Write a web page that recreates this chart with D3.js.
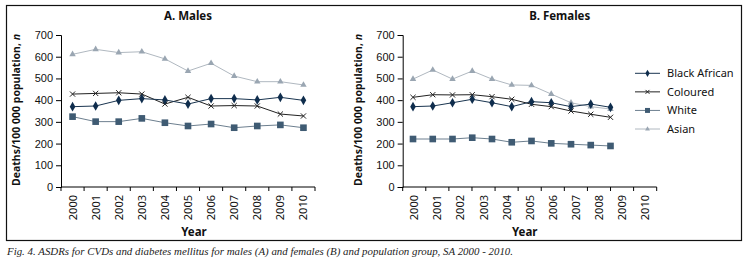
<!DOCTYPE html>
<html><head><meta charset="utf-8">
<script src="https://cdn.jsdelivr.net/npm/d3@7"></script>
<style>
body{margin:0;background:#fff;}
svg{display:block;font-family:"Noto Sans",sans-serif;}
</style></head>
<body><svg id="c" width="746" height="267"></svg>
<script>
const years = ["2000","2001","2002","2003","2004","2005","2006","2007","2008","2009","2010"];
const groups = ["Black African","Coloured","White","Asian"];
const yTicks = [0,100,200,300,400,500,600,700];

const malesBlack    = [370,373,399,407,401,382,407,407,401,413,399];
const malesColoured = [428,431,434,428,382,413,373,375,373,336,327];
const malesWhite    = [324,301,301,316,296,281,290,273,281,286,273];
const malesAsian    = [611,634,619,623,590,534,570,511,485,485,470];

const femalesBlack    = [370,373,388,404,388,370,393,388,370,382,367];
const femalesColoured = [413,425,424,425,416,404,381,370,350,335,321];
const femalesWhite    = [221,221,221,227,221,206,212,201,197,193,189];
const femalesAsian    = [497,539,497,534,497,470,468,428,388,370,359];

const styles = {
  "Black African": {line:"#1a3550", fill:"#0f2d4d", marker:"diamond", size:27},
  "Coloured":      {line:"#222", fill:"#222", marker:"x", size:22},
  "White":         {line:"#6d7f8f", fill:"#3f5b73", marker:"square", size:44},
  "Asian":         {line:"#b0b8c0", fill:"#9aa6b2", marker:"triangle", size:18}
};

const svg = d3.select("#c");
// frame
svg.append("rect").attr("x",6.5).attr("y",5.5).attr("width",735).attr("height",235)
  .attr("fill","none").attr("stroke","#111").attr("stroke-width",1.2);

const y = d3.scaleLinear().domain([0,700]).range([187,35]);

function markerPath(kind,size,scale){
  const k = scale||1;
  if(kind==="x"){ const r=2.6*k; return `M${-r},${-r}L${r},${r}M${-r},${r}L${r},${-r}`; }
  const t = {diamond:d3.symbolDiamond, square:d3.symbolSquare, triangle:d3.symbolTriangle}[kind];
  return d3.symbol().type(t).size(size*k*k)();
}

function panel(opts){
  const g = svg.append("g");
  const xBand = d3.scaleBand().domain(years).range([opts.x0,opts.x1]);
  const xPt = opts.pointScale || (d => xBand(d)+xBand.bandwidth()/2);
  // y axis
  const ya = g.append("g").attr("transform",`translate(${opts.x0},0)`)
    .call(d3.axisLeft(y).tickValues(yTicks).tickSize(5).tickPadding(3));
  ya.select(".domain").attr("stroke","#000");
  ya.selectAll("text").attr("font-size",11).attr("fill","#111");
  // x axis with ticks at band boundaries
  const xa = g.append("g").attr("transform",`translate(0,187)`);
  xa.append("line").attr("x1",opts.x0).attr("x2",opts.x1).attr("stroke","#000");
  const bounds = years.map(d=>xBand(d)).concat([opts.x1]);
  xa.selectAll("line.t").data(bounds).join("line").attr("class","t")
    .attr("x1",d=>d).attr("x2",d=>d).attr("y1",0).attr("y2",4).attr("stroke","#000");
  xa.selectAll("text").data(years).join("text")
    .attr("transform",d=>`translate(${xBand(d)+xBand.bandwidth()/2+4},${8}) rotate(-90)`)
    .attr("text-anchor","end").attr("font-size",11).attr("fill","#111").text(d=>d);
  // labels
  g.append("text").attr("x",(opts.x0+opts.x1)/2+opts.titleDx).attr("y",20).attr("text-anchor","middle")
    .attr("font-weight","bold").attr("font-size",11.5).attr("fill","#111").text(opts.title);
  g.append("text").attr("x",(opts.x0+opts.x1)/2+opts.yearDx).attr("y",236).attr("text-anchor","middle")
    .attr("font-weight","bold").attr("font-size",11.5).attr("fill","#111").text("Year");
  const yl = g.append("text").attr("transform",`translate(${opts.x0-41},110) rotate(-90)`)
    .attr("text-anchor","middle").attr("font-weight","bold").attr("font-size",10.5).attr("fill","#111");
  yl.append("tspan").text("Deaths/100 000 population, ");
  yl.append("tspan").attr("font-style","italic").text("n");
  // series
  const order = ["Asian","White","Coloured","Black African"];
  order.forEach(name=>{
    const vals = opts.data[name];
    const st = styles[name];
    const pts = vals.map((v,i)=>[xPt(years[i],i), y(v)]);
    g.append("path").attr("d",d3.line()(pts)).attr("fill","none")
      .attr("stroke",st.line).attr("stroke-width",1);
    g.selectAll(null).data(pts).join("path")
      .attr("transform",p=>`translate(${p[0]},${p[1]})`)
      .attr("d",markerPath(st.marker,st.size))
      .attr("fill",st.marker==="x"?"none":st.fill)
      .attr("stroke",st.marker==="x"?st.fill:"none").attr("stroke-width",1);
  });
}

panel({x0:61, x1:315, title:"A. Males", titleDx:0, yearDx:6,
  data:{"Black African":malesBlack,"Coloured":malesColoured,"White":malesWhite,"Asian":malesAsian}});

// females panel: points are compressed relative to the year axis in the original
const fIdx = d3.scaleLinear().domain([0, years.length-1]).range([413, 610.5]);
panel({x0:402.7, x1:656.7, title:"B. Females", titleDx:30, yearDx:-5,
  pointScale:(d,i)=>fIdx(i),
  data:{"Black African":femalesBlack,"Coloured":femalesColoured,"White":femalesWhite,"Asian":femalesAsian}});

// legend
const lg = svg.append("g");
const ly = d3.scalePoint().domain(groups).range([73.3,129]);
groups.forEach(name=>{
  const st = styles[name];
  const yy = ly(name);
  lg.append("line").attr("x1",635).attr("x2",660).attr("y1",yy).attr("y2",yy).attr("stroke",st.line);
  lg.append("path").attr("transform",`translate(647.5,${yy})`).attr("d",markerPath(st.marker,st.size,0.75))
    .attr("fill",st.marker==="x"?"none":st.fill).attr("stroke",st.marker==="x"?st.fill:"none");
  lg.append("text").attr("x",667).attr("y",yy+4).attr("font-size",11).attr("fill","#111").text(name);
});

// caption
svg.append("text").attr("x",7).attr("y",255).attr("font-family","'Liberation Serif',serif")
  .attr("font-style","italic").attr("font-size",11).attr("fill","#222")
  .attr("textLength",506).attr("lengthAdjust","spacingAndGlyphs")
  .text("Fig. 4. ASDRs for CVDs and diabetes mellitus for males (A) and females (B) and population group, SA 2000 - 2010.");
</script></body></html>
